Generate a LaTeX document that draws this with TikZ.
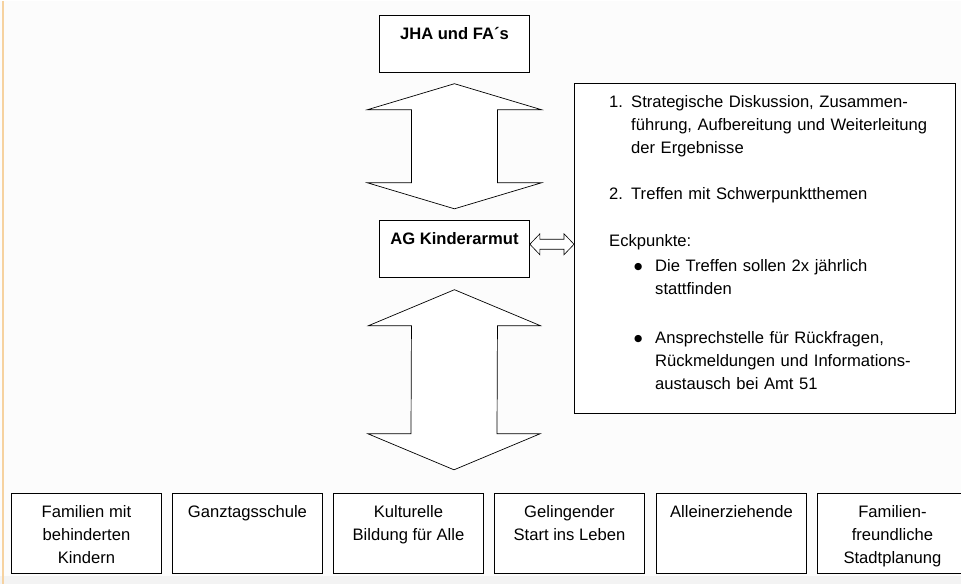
\documentclass[tikz,border=0pt]{standalone}
\usepackage{fontspec}
\setmainfont{Liberation Sans}
\newfontfamily\symfont{DejaVu Sans}
\usetikzlibrary{calc}

\newcommand\lbfont{\fontsize{16.6}{23}\selectfont}
\newcommand\lbbold{\fontsize{16.6}{23}\selectfont\bfseries}
\newcommand\bul{\makebox[21pt][l]{\raisebox{2pt}{\fontsize{9.5}{9.5}\selectfont\symfont ●}}}

\definecolor{edge}{HTML}{F6D2A0}
\definecolor{paper}{HTML}{FCFCFC}
\definecolor{strip}{HTML}{F3F3F3}

\tikzset{
  box/.style={draw=black, line width=0.9pt, fill=white, anchor=north west,
              minimum width=150pt, inner sep=0pt},
  lbl/.style={anchor=north, inner sep=0pt, align=center, font=\lbfont},
  blockarrow/.style={draw=black, line width=0.7pt, fill=white, line join=miter},
}

% vertical double block arrow between two tips
\newcommand\vdoublearrow[5]{% tip A, tip B, head half width, head length, shaft half width
  \draw[blockarrow] (#1)
    -- ($(#1)+(#3,#4)$) -- ($(#1)+(#5,#4)$)
    -- ($(#2)+(#5,-#4)$) -- ($(#2)+(#3,-#4)$)
    -- (#2)
    -- ($(#2)+(-#3,-#4)$) -- ($(#2)+(-#5,-#4)$)
    -- ($(#1)+(-#5,#4)$) -- ($(#1)+(-#3,#4)$) -- cycle;}

\begin{document}
\begin{tikzpicture}[x=1pt,y=-1pt]
  % page
  \fill[paper] (0,0) rectangle (961,583);
  \fill[strip] (0,575) rectangle (961,583);
  \draw[edge, line width=1.6pt] (3,0) -- (3,583);
  \useasboundingbox (0,0) rectangle (961,583);

  % top and middle boxes
  \node[box, minimum height=57pt] (jha) at (379,14) {};
  \node[lbl, font=\lbbold] at ($(jha.north)+(0,8.4)$) {\strut JHA und FA´s};

  \node[box, minimum height=57pt] (ag) at (379,219) {};
  \node[lbl, font=\lbbold] at ($(ag.north)+(0,7.9)$) {\strut AG Kinderarmut};

  % notes box on the right
  \node[box, minimum width=381pt, minimum height=330pt] (notesbox) at (574,82) {};
  \node[anchor=north west, inner sep=0pt, text width=340pt, align=left, font=\lbfont]
    (notes) at (609,90.5) {%
    \strut\makebox[22pt][l]{1.}Strategische Diskussion, Zusammen-\\
    \hspace*{22pt}führung, Aufbereitung und Weiterleitung\\
    \hspace*{22pt}der Ergebnisse\\[23pt]
    \makebox[22pt][l]{2.}Treffen mit Schwerpunktthemen\\[24pt]
    Eckpunkte:\\[2pt]
    \hspace*{25pt}\bul Die Treffen sollen 2x jährlich\\
    \hspace*{46pt}stattfinden\\[26pt]
    \hspace*{25pt}\bul Ansprechstelle für Rückfragen,\\
    \hspace*{46pt}Rückmeldungen und Informations-\\
    \hspace*{46pt}austausch bei Amt 51};

  % bottom row of topic boxes
  \foreach \i/\x/\t in {
      b1/11/{Familien mit\\behinderten\\Kindern},
      b2/172/{Ganztagsschule},
      b3/333/{Kulturelle\\Bildung für Alle},
      b4/494/{Gelingender\\Start ins Leben},
      b5/656/{Alleinerziehende},
      b6/817/{Familien-\\freundliche\\Stadtplanung}} {
    \node[box, minimum height=80pt] (\i) at (\x,492) {};
    \node[lbl] at ($(\i.north)+(0,7.9)$) {\strut\t};
  }

  % connectors
  \coordinate (u1) at ($(jha.south)+(0,11)$);
  \coordinate (u2) at ($(ag.north)+(0,-11)$);
  \vdoublearrow{u1}{u2}{87}{26}{43}

  \coordinate (row) at (454,492);
  \coordinate (l1) at ($(ag.south)+(0,12)$);
  \coordinate (l2) at ($(row)+(0,-23)$);
  \vdoublearrow{l1}{l2}{86}{36}{43}

  \coordinate (h1) at ($(ag.east)+(0,-4.5)$);
  \coordinate (h2) at (notesbox.west |- h1);
  \draw[blockarrow, line width=0.6pt] (h1)
    -- ($(h1)+(10,-10.5)$) -- ($(h1)+(10,-5)$)
    -- ($(h2)+(-10,-5)$) -- ($(h2)+(-10,-10.5)$) -- (h2)
    -- ($(h2)+(-10,10.5)$) -- ($(h2)+(-10,5)$)
    -- ($(h1)+(10,5)$) -- ($(h1)+(10,10.5)$) -- cycle;
\end{tikzpicture}
\end{document}
